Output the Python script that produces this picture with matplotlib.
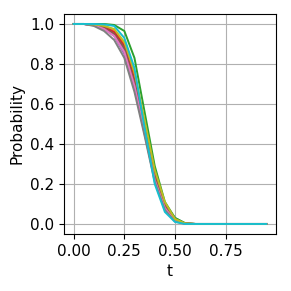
import matplotlib.pyplot as plt

t = [0.00, 0.05, 0.10, 0.15, 0.20, 0.25, 0.30, 0.35, 0.40, 0.45,
     0.50, 0.55, 0.60, 0.65, 0.70, 0.75, 0.80, 0.85, 0.90, 0.95]

tail = [0.0] * 8
runs = [
    [1.0, 1.0, 0.995, 0.98, 0.95, 0.87, 0.71, 0.49, 0.25, 0.10, 0.03, 0.003] + tail,
    [1.0, 1.0, 0.997, 0.99, 0.97, 0.90, 0.74, 0.50, 0.26, 0.10, 0.025, 0.002] + tail,
    [1.0, 1.0, 1.0, 1.0, 0.995, 0.965, 0.83, 0.56, 0.29, 0.11, 0.03, 0.004] + tail,
    [1.0, 1.0, 0.996, 0.985, 0.96, 0.89, 0.72, 0.49, 0.25, 0.09, 0.02, 0.001] + tail,
    [1.0, 1.0, 0.993, 0.975, 0.94, 0.85, 0.68, 0.45, 0.22, 0.08, 0.015, 0.001] + tail,
    [1.0, 1.0, 0.995, 0.98, 0.95, 0.88, 0.71, 0.48, 0.24, 0.09, 0.02, 0.002] + tail,
    [1.0, 1.0, 0.994, 0.975, 0.94, 0.86, 0.69, 0.46, 0.22, 0.08, 0.015, 0.001] + tail,
    [1.0, 1.0, 0.99, 0.965, 0.92, 0.83, 0.66, 0.44, 0.21, 0.07, 0.012, 0.001] + tail,
    [1.0, 1.0, 0.998, 0.99, 0.975, 0.91, 0.76, 0.52, 0.27, 0.11, 0.025, 0.003] + tail,
    [1.0, 1.0, 1.0, 0.998, 0.99, 0.93, 0.78, 0.48, 0.20, 0.06, 0.01, 0.0] + tail,
]

plt.rcParams["font.size"] = 11

fig, ax = plt.subplots(figsize=(2.91, 2.91), dpi=100)
for r in runs:
    ax.plot(t, r, linewidth=1.4)

ax.set_xlabel("t")
ax.set_ylabel("Probability")
ax.set_xticks([0.0, 0.25, 0.5, 0.75])
ax.grid(True)
fig.subplots_adjust(left=0.22, right=0.948, top=0.952, bottom=0.196)

plt.savefig("out.png", dpi=100)
